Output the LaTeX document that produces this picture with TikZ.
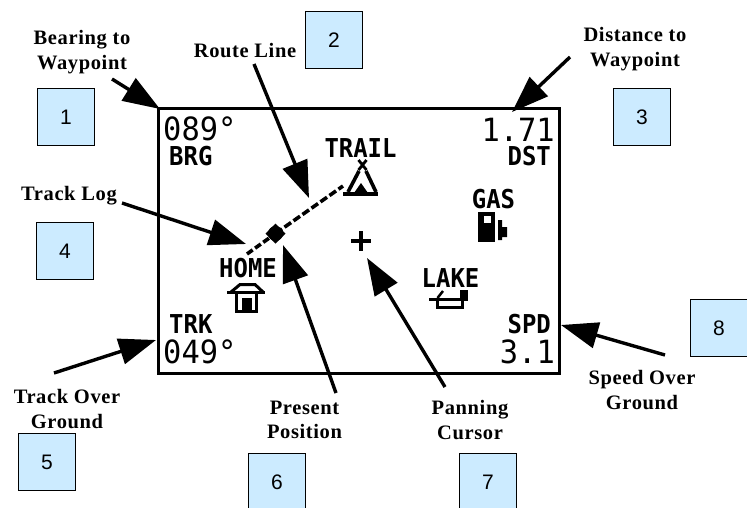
\documentclass[tikz,border=0pt]{standalone}
\usepackage{fontspec}
\usetikzlibrary{arrows.meta}
\setmainfont{Liberation Serif}
\newfontfamily\labfont[LetterSpace=3]{Liberation Serif}
\newfontfamily\lcdfont{DejaVu Sans Mono}
\newfontfamily\numfont{Liberation Sans}
\newcommand{\lcdsmall}[1]{\scalebox{.92}[1]{\lcdfont\bfseries\fontsize{26}{26}\selectfont #1}}
\newcommand{\lcdbig}[1]{\scalebox{.95}[1]{\lcdfont\fontsize{32}{32}\selectfont #1}}
\definecolor{boxblue}{HTML}{CCEBFF}
\tikzset{
  numbox/.style={draw=black,fill=boxblue,line width=1pt,minimum width=57pt,minimum height=57pt,inner sep=0pt,font=\numfont\fontsize{21}{21}\selectfont},
  callout/.style={font=\labfont\bfseries\fontsize{20.5}{24.5}\selectfont,align=center,inner sep=0pt},
  lcd/.style={inner sep=0pt,anchor=base west},
  lcdr/.style={inner sep=0pt,anchor=base east},
  lcdc/.style={inner sep=0pt,anchor=base},
  pointer/.style={line width=3.4pt,-{Triangle[length=37pt,width=26pt]}},
  icon/.style={line width=3pt,line cap=butt}
}
\begin{document}
\begin{tikzpicture}[x=1pt,y=-1pt]
\useasboundingbox (0,0) rectangle (747,507);
\fill[white] (0,0) rectangle (747,507);
\node[draw=black,line width=3pt,minimum width=401pt,minimum height=265pt,inner sep=0pt] (screen) at (359,241) {};
% numbered boxes
\node[numbox] (n1) at (66,117) {1};
\node[numbox] (n2) at (334,40) {2};
\node[numbox] (n3) at (642,117) {3};
\node[numbox] (n4) at (65,251) {4};
\node[numbox] (n5) at (47,462) {5};
\node[numbox] (n6) at (277,482) {6};
\node[numbox] (n7) at (488,482) {7};
\node[numbox] (n8) at (719,328) {8};
% labels
\node[callout] (bearing) at (82,52) {Bearing to\\Waypoint};
\node[callout] (route) at (245,51) {Route Line};
\node[callout] (dist) at (635,49) {Distance to\\Waypoint};
\node[callout] (tlog) at (69,196) {Track Log};
\node[callout] (tover) at (67,409) {Track Over\\Ground};
\node[callout] (pres) at (304.5,420) {Present\\Position};
\node[callout] (pan) at (470,420) {Panning\\Cursor};
\node[callout] (spd) at (642,390) {Speed Over\\Ground};
% screen text
\node[lcd] (t089) at (163,140) {\lcdbig{089°}};
\node[lcd] (tbrg) at (169,165) {\lcdsmall{BRG}};
\node[lcdr] (t171) at (555,141) {\lcdbig{1.71}};
\node[lcdr] (tdst) at (551,165) {\lcdsmall{DST}};
\node[lcdc] (ttrail) at (360.5,157) {\lcdsmall{TRAIL}};
\node[lcdc] (tgas) at (493.5,208) {\lcdsmall{GAS}};
\node[lcdc] (thome) at (248,277) {\lcdsmall{HOME}};
\node[lcdc] (tlake) at (450.5,287) {\lcdsmall{LAKE}};
\node[lcd] (ttrk) at (169,333) {\lcdsmall{TRK}};
\node[lcdr] (tspd) at (551,333) {\lcdsmall{SPD}};
\node[lcd] (t049) at (163,363) {\lcdbig{049°}};
\node[lcdr] (t31) at (555,363) {\lcdbig{3.1}};
% track and route
\coordinate (homeend) at (247,254);
\coordinate (pos) at (275.5,233.5);
\coordinate (trailend) at (343,186);
\draw[line width=3.6pt,dash pattern=on 7pt off 3pt] (homeend) -- (pos);
\draw[line width=3.6pt,dash pattern=on 8pt off 3pt] (pos) -- (trailend);
\fill (pos) ++(0,-10) -- ++(10,10) -- ++(-10,10) -- ++(-10,-10) -- cycle;
\fill (pos) circle[radius=7.5pt];
% cursor
\coordinate (cursor) at (361,241);
\draw[line width=3.2pt] (351,241) -- (371,241) (361,231) -- (361,251);
% tent
\draw[line width=2.8pt] (358.5,160) -- (366.5,170) (366.5,160) -- (358.5,170);
\draw[line width=3.6pt] (359,171) -- (348,192) (366,171) -- (376,192);
\fill (361,183) -- (354,193) -- (368,193) -- cycle;
\fill (343,192) rectangle (378,196);
% gas pump
\fill (478,212) rectangle (495,242);
\fill[white] (484,216) rectangle (491,223);
\fill (498,220) -- (502,220) -- (502,227) -- (507,227) -- (507,237) -- (502,237) -- (502,240) -- (498,240) -- cycle;
% house
\draw[icon] (227,292.5) -- (265,292.5);
\draw[icon] (231,292) -- (240,284.5) -- (255,284.5) -- (263,292);
\draw[icon] (236.5,293) -- (236.5,311) -- (256.5,311) -- (256.5,293);
\draw[line width=2pt] (242,299) -- (252,299);
\fill (242,299) rectangle (252,310);
% boat
\draw[line width=3pt] (429,299.5) -- (462,299.5) (437,299.5) -- (437,307.5) -- (462,307.5) -- (462,299.5);
\fill (460,290) rectangle (468,301);
\draw[line width=2.5pt] (437.5,298) -- (443,291);
% arrows
\coordinate (a1) at (112,79); \coordinate (b1) at (160,109);
\coordinate (a2) at (254,64); \coordinate (b2) at (309,198);
\coordinate (a3) at (570,57); \coordinate (b3) at (512,112);
\coordinate (a4) at (122,203); \coordinate (b4) at (246,244);
\coordinate (a5) at (54,373); \coordinate (b5) at (156,340);
\coordinate (a6) at (336,393); \coordinate (b6) at (283,245);
\coordinate (a7) at (445,387); \coordinate (b7) at (367,258);
\coordinate (a8) at (665,355); \coordinate (b8) at (561,325);
\foreach \i in {1,...,8} \draw[pointer] (a\i) -- (b\i);
\end{tikzpicture}
\end{document}
